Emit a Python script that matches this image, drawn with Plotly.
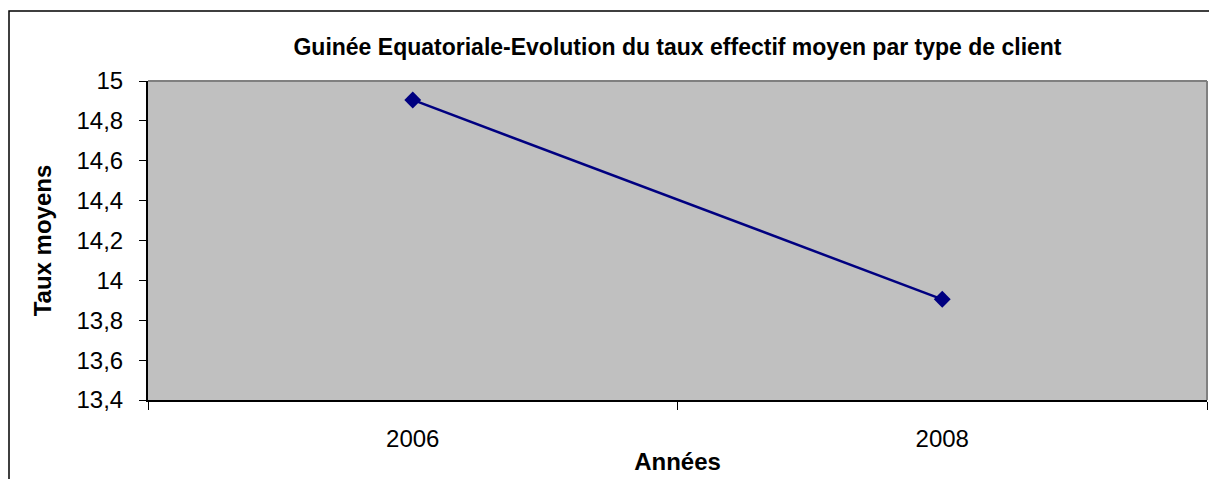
import plotly.graph_objects as go

# ── DATA ──────────────────────────────────────────────────────────────────────
years = ["2006", "2008"]
taux_moyens = [14.905, 13.905]

y_range = [13.4, 15]
y_step = 0.2

FONT = "Liberation Sans, Arial, sans-serif"

# page is drawn with an 8px body offset, so plot area sits at 140..1199 x 73..392
L, T, R, B = 140, 73, 18, 87
PW, PH = 1217 - L - R, 479 - T - B

fig = go.Figure()

fig.add_trace(
    go.Scatter(
        x=years,
        y=taux_moyens,
        mode="lines+markers",
        line=dict(color="#000080", width=2.5),
        marker=dict(symbol="diamond", size=13, color="#000080"),
        showlegend=False,
        hoverinfo="x+y",
    )
)

# ── PLOT AREA BORDER (grey top / right edges, Excel style) ───────────────────
fig.add_shape(type="line", xref="x domain", yref="y domain",
              x0=0, x1=1, y0=1, y1=1, line=dict(color="#808080", width=2))
fig.add_shape(type="line", xref="x domain", yref="y domain",
              x0=1, x1=1, y0=0, y1=1, line=dict(color="#808080", width=2))

# ── CHART FRAME (only left and top edges visible in the crop) ────────────────
fig.add_shape(type="rect", xref="paper", yref="paper",
              x0=(1 - L) / PW, x1=(1240 - L) / PW,
              y0=-0.6, y1=1 + (T - 3) / PH,
              line=dict(color="#000000", width=1.5), layer="below")

fig.update_layout(
    width=1217,
    height=479,
    margin=dict(l=L, r=R, t=T, b=B),
    separators=", ",
    paper_bgcolor="white",
    plot_bgcolor="#C0C0C0",
    font=dict(family=FONT, size=24, color="#000000"),
    title=dict(
        text="<b>Guinée Equatoriale-Evolution du taux effectif moyen par type de client</b>",
        x=0.5, xref="paper", xanchor="center",
        y=1 - 39 / 479, yref="container", yanchor="middle",
        font=dict(family=FONT, size=23, color="#000000"),
    ),
    xaxis=dict(
        type="category",
        categoryorder="array",
        categoryarray=years,
        range=[-0.5, 1.5],
        tickson="boundaries",
        ticks="outside",
        ticklen=8,
        tickwidth=1,
        tickcolor="#000000",
        ticklabelstandoff=16,
        showline=True,
        linecolor="#000000",
        linewidth=2,
        showgrid=False,
        zeroline=False,
        title=dict(text="<b>Années</b>", standoff=2, font=dict(size=24)),
    ),
    yaxis=dict(
        range=y_range,
        dtick=y_step,
        tick0=y_range[0],
        ticks="outside",
        ticklen=7,
        tickwidth=1,
        tickcolor="#000000",
        ticklabelstandoff=11,
        showline=True,
        linecolor="#000000",
        linewidth=2,
        showgrid=False,
        zeroline=False,
        title=dict(text="<b>Taux moyens</b>", standoff=18, font=dict(size=24)),
    ),
)

fig.write_html("out.html")
